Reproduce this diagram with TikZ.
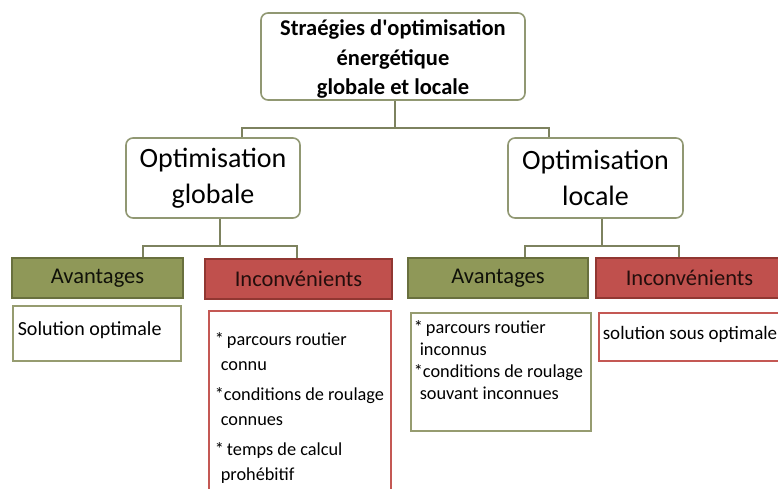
\documentclass[tikz,border=0pt]{standalone}
\usepackage{fontspec}
\setmainfont{Carlito}
\usetikzlibrary{positioning}

\definecolor{avfond}{RGB}{143,152,88}
\definecolor{avbord}{RGB}{105,112,62}
\definecolor{incfond}{RGB}{192,80,77}
\definecolor{incbord}{RGB}{145,55,50}
\definecolor{lienc}{RGB}{125,130,95}
\definecolor{cadrec}{RGB}{145,152,115}
\definecolor{avtexte}{RGB}{150,156,112}
\definecolor{inctexte}{RGB}{196,88,84}

\begin{document}
\begin{tikzpicture}
        [
        x = 1pt, y = 1pt,
        lien/.style = {draw = lienc, line width = 1.6pt},
        titre/.style = {
            draw = cadrec, line width = 1.6pt,
            rounded corners = 7pt,
            align = center, fill = white,
            inner sep = 0pt,
        },
        entete/.style = {
            line width = 1.8pt,
            minimum height = 40pt,
            inner sep = 0pt,
            font = \fontsize{22.5}{24}\selectfont,
        },
        contenu/.style = {
            line width = 1.6pt, fill = white,
            anchor = north west,
            inner sep = 0pt,
            font = \fontsize{18.3}{25}\selectfont,
        },
        ]
        \useasboundingbox (0,0) rectangle (778,489);
        \clip (0,0) rectangle (778,489);

        % Niveau 1
        \node[titre, minimum width = 264pt, minimum height = 87pt,
            font = \bfseries\fontsize{22.5}{29}\selectfont] (strat) at (393,432.5)
            {\rule{0pt}{21pt}Straégies d\textquotesingle optimisation\\[1pt]énergétique\\globale et locale};

        % Niveau 2
        \node[titre, minimum width = 174pt, minimum height = 80pt,
            font = \fontsize{28}{36}\selectfont] (glob) at (213,311)
            {Optimisation\\globale};
        \node[titre, minimum width = 175pt, minimum height = 80pt,
            font = \fontsize{28}{36}\selectfont] (loc) at (595.5,311)
            {Optimisation\\locale};

        % Niveau 3
        \node[entete, draw = avbord, fill = avfond, text = black!85!avbord,
            minimum width = 171pt] (glob_av) at (97.5,211) {Avantages};
        \node[entete, draw = incbord, fill = incfond, text = black!75!incbord,
            minimum width = 187pt] (glob_inc) at (298.5,210) {Inconvénients};
        \node[entete, draw = avbord, fill = avfond, text = black!85!avbord,
            minimum width = 180pt] (loc_av) at (498,211) {Avantages};
        \node[entete, draw = incbord, fill = incfond, text = black!75!incbord,
            minimum width = 187pt] (loc_inc) at (689.5,211) {Inconvénients};

        % Contenus
        \node[contenu, draw = avtexte, font = \fontsize{20}{25}\selectfont] (glob_av_txt) at (12,184)
            {\begin{minipage}[t][55pt][t]{168pt}\vspace{16pt}\hspace*{5pt}Solution optimale\end{minipage}};
        \node[contenu, draw = inctexte] (glob_inc_txt) at (208,179)
            {\begin{minipage}[t][200pt][t]{182pt}\vspace{22pt}\hspace*{6pt}*\,parcours routier\\
            \hspace*{12pt}connu\\[5pt]
            \hspace*{6pt}*conditions de roulage\\
            \hspace*{12pt}connues\\[5pt]
            \hspace*{6pt}*\,temps de calcul\\
            \hspace*{12pt}prohébitif\end{minipage}};
        \node[contenu, draw = avtexte, font = \fontsize{18.3}{22}\selectfont] (loc_av_txt) at (410,177)
            {\begin{minipage}[t][118pt][t]{180pt}\vspace{8pt}\hspace*{3pt}*\,parcours routier\\
            \hspace*{9pt}inconnus\\
            \hspace*{3pt}*conditions de roulage\\
            \hspace*{9pt}souvant inconnues\end{minipage}};
        \node[contenu, draw = inctexte, font = \fontsize{19}{25}\selectfont] (loc_inc_txt) at (598,177)
            {\begin{minipage}[t][48pt][t]{190pt}\vspace{14pt}\hspace*{4pt}solution sous optimale\end{minipage}};

        % Liens
        \draw[lien] ([xshift = 2pt]strat.south) -- ++(0,-27) coordinate (j_strat);
        \draw[lien] ([xshift = 29pt]glob.north) |- (j_strat) -| ([xshift = -46.5pt]loc.north);

        \draw[lien] ([xshift = 7pt]glob.south) -- ++(0,-27) coordinate (j_glob);
        \draw[lien] ([xshift = 45.5pt]glob_av.north) |- (j_glob) -| ([xshift = -1.5pt]glob_inc.north);

        \draw[lien] ([xshift = 6.5pt]loc.south) -- ++(0,-27) coordinate (j_loc);
        \draw[lien] ([xshift = 27pt]loc_av.north) |- (j_loc) -| ([xshift = -10.5pt]loc_inc.north);
    \end{tikzpicture}
\end{document}
